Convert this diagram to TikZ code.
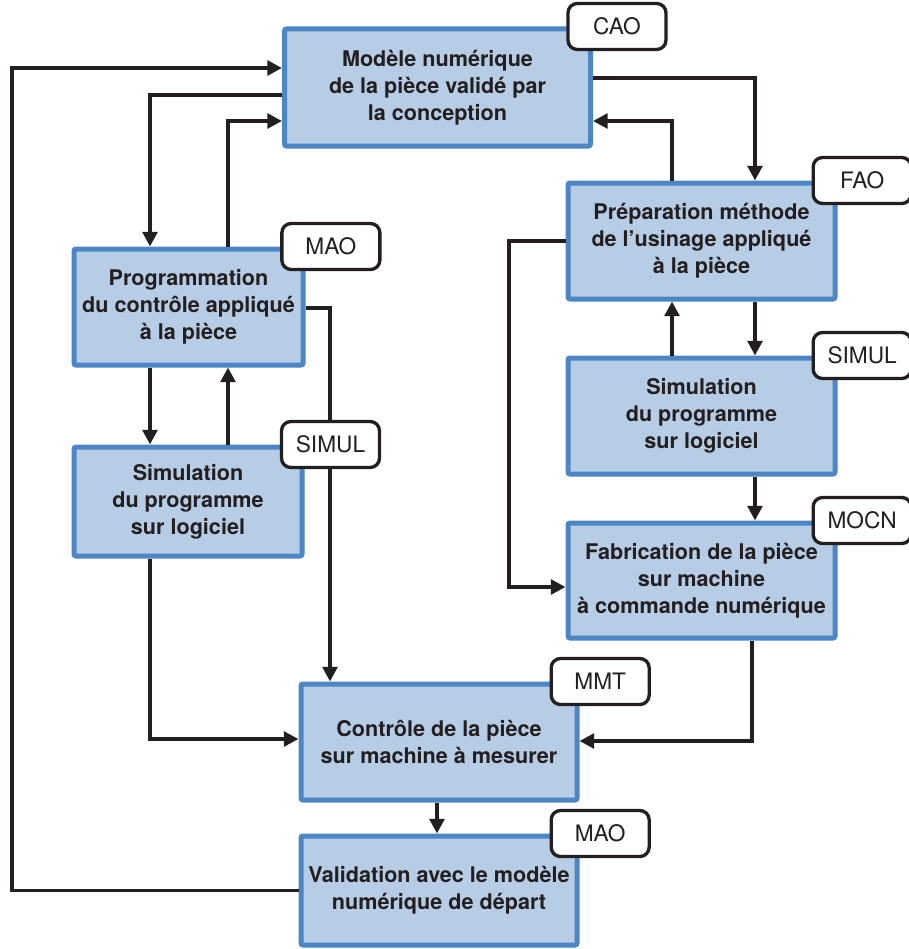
\documentclass[tikz,border=0pt]{standalone}
\usepackage{fontspec}
\setmainfont{TeX Gyre Heros}
\usetikzlibrary{arrows.meta}

\definecolor{bleuFond}{RGB}{182,205,229}
\definecolor{bleuBord}{RGB}{76,134,196}
\definecolor{noirTrait}{RGB}{35,31,32}

\tikzset{every picture/.style={line width=0.75pt}}
\tikzset{
  etape/.style={draw=bleuBord, fill=bleuFond, line width=3.75pt, rounded corners=1.5pt, align=center, inner sep=0pt, text=noirTrait, font=\bfseries\fontsize{16.2}{20.25}\selectfont},
  etiquette/.style={draw=noirTrait, fill=white, line width=2.5pt, rounded corners=7pt, minimum width=73.5pt, minimum height=34.5pt, inner sep=0pt, text=noirTrait, font=\fontsize{17}{18}\selectfont},
  fleche/.style={draw=noirTrait, line width=2.8pt, -{Triangle[length=11pt,width=11pt]}}
}

\begin{document}
\begin{tikzpicture}[x=0.75pt,y=0.75pt,yscale=-1,xscale=1]
        \useasboundingbox (0,0) rectangle (909,949);
        %Shape: Rectangle [modele]
        \node [etape, minimum width=229.5pt, minimum height=87.75pt] (modele) at (437.5,87.5) {Modèle numérique\\de la pièce validé par\\la conception};
        %Shape: Rectangle [programmation]
        \node [etape, minimum width=171.75pt, minimum height=87pt] (programmation) at (188.5,307) {Programmation\\du contrôle appliqué\\à la pièce};
        %Shape: Rectangle [simulG]
        \node [etape, minimum width=171pt, minimum height=81.75pt] (simulG) at (188,501.5) {Simulation\\du programme\\sur logiciel};
        %Shape: Rectangle [preparation]
        \node [etape, minimum width=200.25pt, minimum height=87pt] (preparation) at (701.5,241) {Préparation méthode\\de l’usinage appliqué\\à la pièce};
        %Shape: Rectangle [simulD]
        \node [etape, minimum width=200.25pt, minimum height=87pt] (simulD) at (701.5,416) {Simulation\\du programme\\sur logiciel};
        %Shape: Rectangle [fabrication]
        \node [etape, minimum width=200.25pt, minimum height=86.25pt] (fabrication) at (701.5,580.5) {Fabrication de la pièce\\sur machine\\à commande numérique};
        %Shape: Rectangle [controle]
        \node [etape, minimum width=207pt, minimum height=87pt] (controle) at (439,742) {Contrôle de la pièce\\sur machine à mesurer};
        %Shape: Rectangle [validation]
        \node [etape, minimum width=207pt, minimum height=81.75pt] (validation) at (439,890.5) {Validation avec le modèle\\numérique de départ};

        %Straight Lines [retour au modele]
        \draw [fleche] (validation.west) -| (12,68) -- (modele.west |- 12,68) ;
        %Straight Lines
        \draw [fleche] (modele.west |- 0,95) -| (programmation.north -| 150,0) ;
        %Straight Lines
        \draw [fleche] (programmation.north -| 228,0) |- (modele.west |- 0,121) ;
        %Straight Lines
        \draw [fleche] (modele.east |- 0,78) -| (preparation.north -| 755,0) ;
        %Straight Lines
        \draw [fleche] (preparation.north -| 672,0) |- (modele.east |- 0,121) ;
        %Straight Lines
        \draw [fleche] (preparation.south -| 755,0) -- (simulD.north -| 755,0) ;
        %Straight Lines
        \draw [fleche] (simulD.north -| 672,0) -- (preparation.south -| 672,0) ;
        %Straight Lines
        \draw [fleche] (simulD.south -| 755,0) -- (fabrication.north -| 755,0) ;
        %Straight Lines
        \draw [fleche] (preparation.west) -| (509,587) -- (fabrication.west |- 0,587) ;
        %Straight Lines
        \draw [fleche] (fabrication.south -| 752,0) |- (controle.east |- 0,741) ;
        %Straight Lines
        \draw [fleche] (programmation.south -| 150,0) -- (simulG.north -| 150,0) ;
        %Straight Lines
        \draw [fleche] (simulG.north -| 228,0) -- (programmation.south -| 228,0) ;
        %Straight Lines
        \draw [fleche] (programmation.east |- 0,308) -| (controle.north -| 330,0) ;
        %Straight Lines
        \draw [fleche] (simulG.south -| 150,0) |- (controle.west |- 0,739) ;
        %Straight Lines
        \draw [fleche] (controle.south -| 437,0) -- (validation.north -| 437,0) ;

        % Text Node
        \node [etiquette] (cao) at ([xshift=18pt]modele.north east) {CAO};
        % Text Node
        \node [etiquette] (maoHaut) at ([xshift=19pt]programmation.north east) {MAO};
        % Text Node
        \node [etiquette] (simulGauche) at ([xshift=19.5pt]simulG.north east) {SIMUL};
        % Text Node
        \node [etiquette] (fao) at ([xshift=18.5pt]preparation.north east) {FAO};
        % Text Node
        \node [etiquette] (simulDroite) at ([xshift=18.5pt]simulD.north east) {SIMUL};
        % Text Node
        \node [etiquette] (mocn) at ([xshift=18.5pt]fabrication.north east) {MOCN};
        % Text Node
        \node [etiquette] (mmt) at ([xshift=15.5pt]controle.north east) {MMT};
        % Text Node
        \node [etiquette] (maoBas) at ([xshift=15.5pt]validation.north east) {MAO};
\end{tikzpicture}
\end{document}
